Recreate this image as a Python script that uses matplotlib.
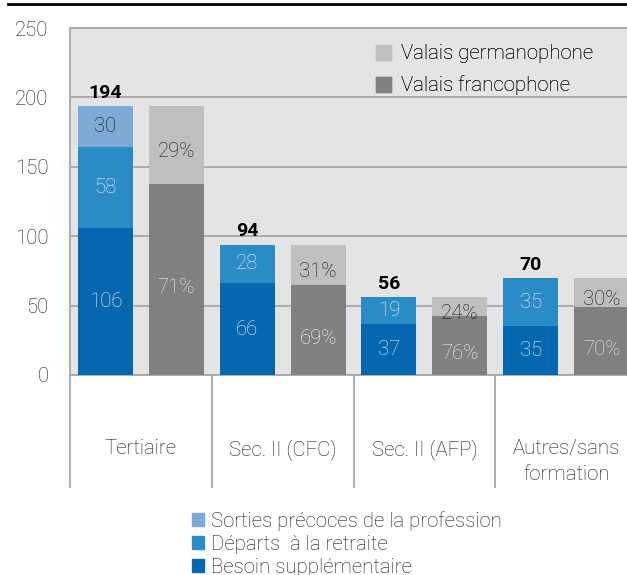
import matplotlib
matplotlib.use("Agg")
import matplotlib.pyplot as plt
import matplotlib.transforms as mtransforms
from matplotlib.lines import Line2D
from matplotlib.patches import Patch
import numpy as np

plt.rcParams['font.family'] = ['Roboto', 'DejaVu Sans']

categories = ["Tertiaire", "Sec. II (CFC)", "Sec. II (AFP)", "Autres/sans\nformation"]
besoin = [106, 66, 37, 35]
departs = [58, 28, 19, 35]
sorties = [30, 0, 0, 0]
totals = [194, 94, 56, 70]
pct_franco = [71, 69, 76, 70]
pct_german = [29, 31, 24, 30]
yticks = [0, 50, 100, 150, 200, 250]

c_besoin = "#0467b0"
c_depart = "#2b8bc7"
c_sortie = "#7eaad8"
c_franco = "#808080"
c_german = "#bfbfbf"
bg = "#e4e4e4"
gridc = "#a6a6a6"
txt = "#141414"

W, H = 627, 575
fig = plt.figure(figsize=(W / 100, H / 100), dpi=100)
ax_left, ax_bottom = 70 / W, (H - 375) / H
ax_w, ax_h = 567 / W, 347 / H
ax = fig.add_axes([ax_left, ax_bottom, ax_w, ax_h])
ax.set_facecolor(bg)
ax.set_xlim(-0.5, 3.5)
ax.set_ylim(0, 250)

x = np.arange(len(categories))
bw = 0.388
off = 0.25
xb = x - off
xg = x + off

ax.bar(xb, besoin, bw, color=c_besoin, zorder=3)
ax.bar(xb, departs, bw, bottom=besoin, color=c_depart, zorder=3)
bot3 = np.array(besoin) + np.array(departs)
ax.bar(xb, sorties, bw, bottom=bot3, color=c_sortie, zorder=3)

tot = np.array(totals, dtype=float)
fr = tot * np.array(pct_franco) / 100
ge = tot * np.array(pct_german) / 100
ax.bar(xg, fr, bw, color=c_franco, zorder=3)
ax.bar(xg, ge, bw, bottom=fr, color=c_german, zorder=3)

fs = 14.7
light = 'light'
white = '#f4f4f4'
for i in range(len(categories)):
    ax.text(xb[i], besoin[i] / 2, str(besoin[i]), ha='center', va='center',
            color=white, fontsize=fs, fontweight=light, zorder=4)
    ax.text(xb[i], besoin[i] + departs[i] / 2, str(departs[i]), ha='center', va='center',
            color=white, fontsize=fs, fontweight=light, zorder=4)
    if sorties[i]:
        ax.text(xb[i], bot3[i] + sorties[i] / 2, str(sorties[i]), ha='center', va='center',
                color=txt, fontsize=fs, fontweight=light, zorder=4)
    ax.annotate(str(totals[i]), (xb[i], totals[i]), xytext=(0, 3), textcoords='offset points',
                ha='center', va='bottom', fontsize=fs - 0.7, fontweight='bold', color='black', zorder=4)
    ax.annotate(f"{pct_franco[i]}%", (xg[i], fr[i] / 2), xytext=(0, -6), textcoords='offset points',
                ha='center', va='center', color=white, fontsize=fs, fontweight=light, zorder=4)
    ax.annotate(f"{pct_german[i]}%", (xg[i], fr[i] + ge[i] / 2), xytext=(0, -5), textcoords='offset points',
                ha='center', va='center', color=txt, fontsize=fs, fontweight=light, zorder=4)

ax.set_yticks(yticks)
ax.set_yticklabels([str(t) for t in yticks], fontsize=fs, fontweight=light, color=txt)
ax.tick_params(axis='y', length=0, pad=15.5)
ax.set_xticks([])
ax.yaxis.grid(True, color=gridc, linewidth=1.3, zorder=1)
ax.set_axisbelow(True)
for s in ['left', 'top', 'bottom']:
    ax.spines[s].set_color(gridc)
    ax.spines[s].set_linewidth(1.3)
ax.spines['right'].set_visible(False)

trans = mtransforms.blended_transform_factory(ax.transData, ax.transAxes)
ylow = (375 - 487) / 347
for xs in [-0.5, 0.5, 1.5, 2.5, 3.5]:
    ax.add_line(Line2D([xs, xs], [0, ylow], transform=trans, color=gridc, linewidth=1.3, clip_on=False))

ylab = (375 - 439) / 347
for i, c in enumerate(categories):
    ax.text(x[i], ylab, c, transform=trans, ha='center', va='top', fontsize=fs,
            fontweight=light, color=txt, linespacing=1.45)

# Region legend (top right)
leg1 = ax.legend(handles=[Patch(color=c_german), Patch(color=c_franco)],
                 labels=["Valais germanophone", "Valais francophone"],
                 loc='upper left', bbox_to_anchor=((368 - 70) / 567, 1 - 8 / 347),
                 frameon=False, prop={'size': fs, 'weight': light}, handlelength=0.75,
                 handleheight=0.75, handletextpad=0.45, labelspacing=0.6, borderaxespad=0,
                 labelcolor=txt)
ax.add_artist(leg1)

# Bottom legend
fig.legend(handles=[Patch(color=c_sortie), Patch(color=c_depart), Patch(color=c_besoin)],
           labels=["Sorties précoces de la profession", "Départs  à la retraite", "Besoin supplémentaire"],
           loc='upper left', bbox_to_anchor=(184 / W, 1 - 503 / H), frameon=False,
           prop={'size': fs, 'weight': light}, handlelength=0.6, handleheight=0.6,
           handletextpad=0.3, labelspacing=0.2, borderaxespad=0, labelcolor=txt)

fig.add_artist(Line2D([8 / W, 1], [1 - 4 / H, 1 - 4 / H], transform=fig.transFigure,
                      color='black', linewidth=2))

fig.savefig("out.png", dpi=100)
